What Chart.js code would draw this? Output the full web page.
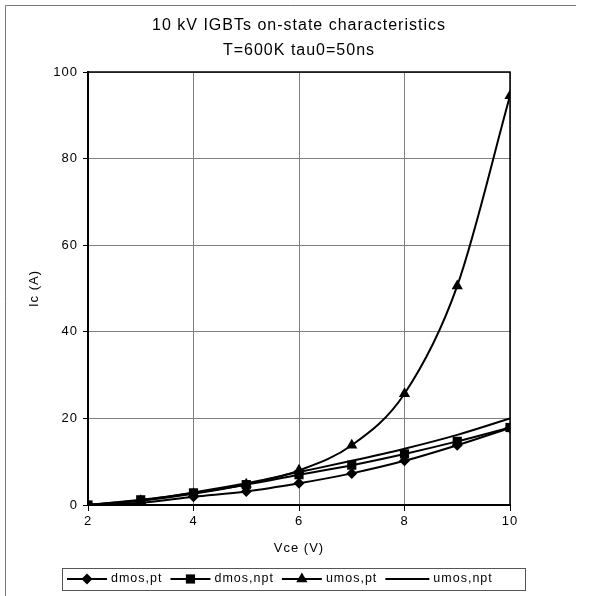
<!DOCTYPE html>
<html>
<head>
<meta charset="utf-8">
<script src="https://cdn.jsdelivr.net/npm/chart.js@4/dist/chart.umd.min.js"></script>
<style>
html,body{margin:0;padding:0;background:#fff;}
canvas{display:block;}
</style>
</head>
<body>
<canvas id="c" width="590" height="596"></canvas>
<script>
// ---- data ----
const vce = [2, 3, 4, 5, 6, 7, 8, 9, 10];
const dmosPt  = [0, 0.5, 1.9, 3.1, 5.0, 7.3, 10.2, 13.8, 17.8];
const dmosNpt = [0, 1.2, 2.8, 4.7, 7.0, 9.2, 11.8, 14.7, 17.9];
const umosPt  = [0, 1.0, 2.6, 4.8, 8.0, 13.8, 25.7, 50.6, 94.5];
const umosNpt = [0, 1.1, 2.9, 5.0, 7.6, 10.2, 13.0, 16.2, 20.0];
const seriesNames = ['dmos,pt', 'dmos,npt', 'umos,pt', 'umos,npt'];
const titleLines = ['10 kV IGBTs on-state characteristics', 'T=600K tau0=50ns'];
const xTitle = 'Vce (V)';
const yTitle = 'Ic (A)';
const xTicks = [2, 4, 6, 8, 10];
const yTicks = [0, 20, 40, 60, 80, 100];

const FONT = "'Liberation Sans', Arial, sans-serif";
const pts = arr => vce.map((x, i) => ({x: x, y: arr[i]}));

const styles = [
  {pointStyle: 'rectRot', radius: 5.5},
  {pointStyle: 'rect', radius: 6.5},
  {pointStyle: 'triangle', radius: 6.5},
  {pointStyle: false, radius: 0}
];
const seriesData = [dmosPt, dmosNpt, umosPt, umosNpt];

const datasets = seriesData.map((arr, i) => ({
  label: seriesNames[i],
  data: pts(arr),
  borderColor: '#000',
  backgroundColor: '#000',
  borderWidth: 2,
  pointStyle: styles[i].pointStyle,
  pointRadius: styles[i].radius,
  pointBackgroundColor: '#000',
  pointBorderColor: '#000',
  pointBorderWidth: 0,
  cubicInterpolationMode: 'monotone',
  fill: false
}));

const spacingPlugin = {
  id: 'spacing',
  beforeLayout(chart) { chart.ctx.letterSpacing = '1px'; },
  beforeDraw(chart) {
    const ctx = chart.ctx;
    ctx.letterSpacing = '1px';
    ctx.save();
    ctx.fillStyle = '#fff';
    ctx.fillRect(0, 0, chart.width, chart.height);
    ctx.strokeStyle = '#777';
    ctx.lineWidth = 1;
    ctx.beginPath();
    ctx.moveTo(5.5, 600); ctx.lineTo(5.5, 5.5); ctx.lineTo(576, 5.5);
    ctx.stroke();
    ctx.restore();
  }
};

const framePlugin = {
  id: 'frame',
  beforeDatasetsDraw(chart) {
    const a = chart.chartArea, ctx = chart.ctx;
    ctx.save();
    ctx.strokeStyle = '#000';
    ctx.lineWidth = 1.5;
    ctx.beginPath();
    ctx.moveTo(a.left, a.top); ctx.lineTo(a.right, a.top); ctx.lineTo(a.right, a.bottom);
    ctx.stroke();
    ctx.restore();
  }
};

function drawMarker(ctx, style, r, x, y) {
  ctx.beginPath();
  if (style === 'rect') {
    const s = r * Math.SQRT1_2;
    ctx.rect(x - s, y - s, 2 * s, 2 * s);
  } else if (style === 'rectRot') {
    ctx.moveTo(x, y - r); ctx.lineTo(x + r, y); ctx.lineTo(x, y + r); ctx.lineTo(x - r, y); ctx.closePath();
  } else if (style === 'triangle') {
    const w = r * Math.sqrt(3);
    ctx.moveTo(x, y - r); ctx.lineTo(x + w / 2, y + r / 2); ctx.lineTo(x - w / 2, y + r / 2); ctx.closePath();
  } else return;
  ctx.fill();
}

const legendPlugin = {
  id: 'boxLegend',
  afterDraw(chart) {
    const ctx = chart.ctx;
    const box = {l: 62, t: 568, r: 525, b: 590};
    ctx.save();
    ctx.letterSpacing = '1px';
    ctx.strokeStyle = '#555';
    ctx.lineWidth = 1;
    ctx.strokeRect(box.l + 0.5, box.t + 0.5, box.r - box.l, box.b - box.t);
    ctx.font = '12.5px ' + FONT;
    ctx.textBaseline = 'middle';
    ctx.textAlign = 'left';
    ctx.fillStyle = '#000';
    ctx.strokeStyle = '#000';
    const cy = (box.t + box.b) / 2;
    let x = box.l + 5;
    chart.data.datasets.forEach((ds, i) => {
      const len = i === 3 ? 44 : 40;
      ctx.lineWidth = 2;
      ctx.beginPath(); ctx.moveTo(x, cy); ctx.lineTo(x + len, cy); ctx.stroke();
      drawMarker(ctx, ds.pointStyle, ds.pointRadius, x + len / 2, cy);
      x += len + 4;
      ctx.fillText(ds.label, x, cy);
      x += ctx.measureText(ds.label).width + 8;
    });
    ctx.restore();
  }
};

Chart.defaults.font.family = FONT;
Chart.defaults.color = '#000';

new Chart(document.getElementById('c'), {
  type: 'line',
  data: {datasets: datasets},
  plugins: [spacingPlugin, framePlugin, legendPlugin],
  options: {
    responsive: false,
    animation: false,
    devicePixelRatio: 1,
    layout: {padding: {top: 0, left: 0, right: 80, bottom: 28}},
    plugins: {
      legend: {display: false},
      tooltip: {enabled: false},
      title: {
        display: true,
        fullSize: false,
        text: titleLines,
        color: '#000',
        font: {size: 16, weight: 'normal', lineHeight: 1.5625},
        padding: {top: 13, bottom: 9}
      }
    },
    scales: {
      x: {
        type: 'linear',
        min: 2, max: 10,
        afterFit(s) { s.height = 63; },
        afterBuildTicks(s) { s.ticks = xTicks.map(v => ({value: v})); },
        ticks: {font: {size: 13}, padding: 3, color: '#000', maxRotation: 0},
        grid: {color: '#808080', lineWidth: 1, tickLength: 6, tickColor: '#000'},
        border: {color: '#000', width: 2},
        title: {display: true, text: xTitle, font: {size: 13}, padding: {top: 0, bottom: 12}, color: '#000'}
      },
      y: {
        min: 0, max: 100,
        afterFit(s) { s.width = 88; },
        afterBuildTicks(s) { s.ticks = yTicks.map(v => ({value: v})); },
        ticks: {font: {size: 13}, padding: 5, color: '#000'},
        grid: {color: '#808080', lineWidth: 1, tickLength: 5, tickColor: '#000'},
        border: {color: '#000', width: 2},
        title: {display: true, text: yTitle, font: {size: 13}, padding: {top: 27, bottom: 0}, color: '#000'}
      }
    }
  }
});
</script>
</body>
</html>
